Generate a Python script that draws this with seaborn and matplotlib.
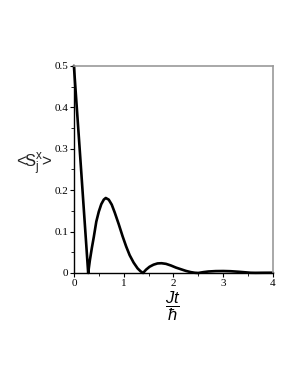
import pandas as pd
import matplotlib
matplotlib.use("Agg")
import matplotlib.pyplot as plt
import seaborn as sns
from matplotlib.ticker import MultipleLocator

# values
t_vals = [0.0, 0.05, 0.1, 0.15, 0.2, 0.25, 0.287,
          0.32, 0.36, 0.40, 0.45, 0.50, 0.55, 0.60, 0.64, 0.70, 0.76, 0.82,
          0.90, 0.98, 1.05, 1.12, 1.20, 1.28, 1.34, 1.39,
          1.45, 1.52, 1.60, 1.68, 1.76, 1.85, 1.95, 2.05, 2.15, 2.25, 2.35,
          2.43, 2.50,
          2.60, 2.70, 2.85, 3.00, 3.15, 3.30, 3.45, 3.55, 3.65, 3.80, 4.00]
sx_vals = [0.5, 0.413, 0.327, 0.240, 0.152, 0.065, 0.0,
           0.030, 0.060, 0.087, 0.124, 0.148, 0.166, 0.177, 0.181, 0.177,
           0.165, 0.146, 0.118, 0.088, 0.064, 0.043, 0.025, 0.011, 0.004, 0.0,
           0.008, 0.015, 0.020, 0.023, 0.0235, 0.022, 0.018, 0.013, 0.009,
           0.005, 0.002, 0.0005, 0.0,
           0.002, 0.0035, 0.0045, 0.0047, 0.0042, 0.003, 0.0015, 0.0005,
           0.0003, 0.0005, 0.0006]
x_ticks = [0, 1, 2, 3, 4]
y_ticks = [0, 0.1, 0.2, 0.3, 0.4, 0.5]
y_ticklabels = ["0", "0.1", "0.2", "0.3", "0.4", "0.5"]

sns.set_style("ticks")
plt.rcParams["font.family"] = ["Liberation Sans", "DejaVu Sans"]
plt.rcParams["mathtext.fontset"] = "custom"
plt.rcParams["mathtext.rm"] = "Liberation Sans"
plt.rcParams["mathtext.it"] = "Liberation Sans:italic"
plt.rcParams["text.color"] = "black"

df = pd.DataFrame({"t": t_vals, "sx": sx_vals})

fig = plt.figure(figsize=(2.98, 3.85), dpi=100)
ax = fig.add_axes([0.248, 0.291, 0.668, 0.538])

sns.lineplot(data=df, x="t", y="sx", ax=ax, color="black", linewidth=1.9,
             sort=False, estimator=None)
for l in ax.lines:
    l.set_clip_on(False)

ax.set_xlim(0, 4)
ax.set_ylim(0, 0.5)
ax.set_xticks(x_ticks)
ax.set_xticklabels([str(v) for v in x_ticks])
ax.set_yticks(y_ticks)
ax.set_yticklabels(y_ticklabels)
ax.xaxis.set_minor_locator(MultipleLocator(0.5))
ax.yaxis.set_minor_locator(MultipleLocator(0.05))
ax.tick_params(which="major", direction="out", length=3, width=0.8,
               labelsize=8, pad=1, color="black", labelcolor="black")
ax.tick_params(which="minor", direction="out", length=2, width=0.6,
               color="black")
for lab in ax.get_xticklabels() + ax.get_yticklabels():
    lab.set_family("Liberation Serif")

for side in ["left", "bottom"]:
    ax.spines[side].set_color("black")
    ax.spines[side].set_linewidth(1.0)
for side in ["top", "right"]:
    ax.spines[side].set_visible(True)
    ax.spines[side].set_color("#9a9a9a")
    ax.spines[side].set_linewidth(1.2)

ax.set_xlabel("")
ax.set_ylabel("")
fig.text(0.117, 0.572, r"<S$\mathregular{^{x}_{j}}$>", fontsize=12,
         ha="center", va="center", color="#222222")
fig.text(0.58, 0.205, r"$\dfrac{Jt}{\hbar}$", fontsize=12,
         ha="center", va="center")

fig.savefig("out.png", dpi=100)
